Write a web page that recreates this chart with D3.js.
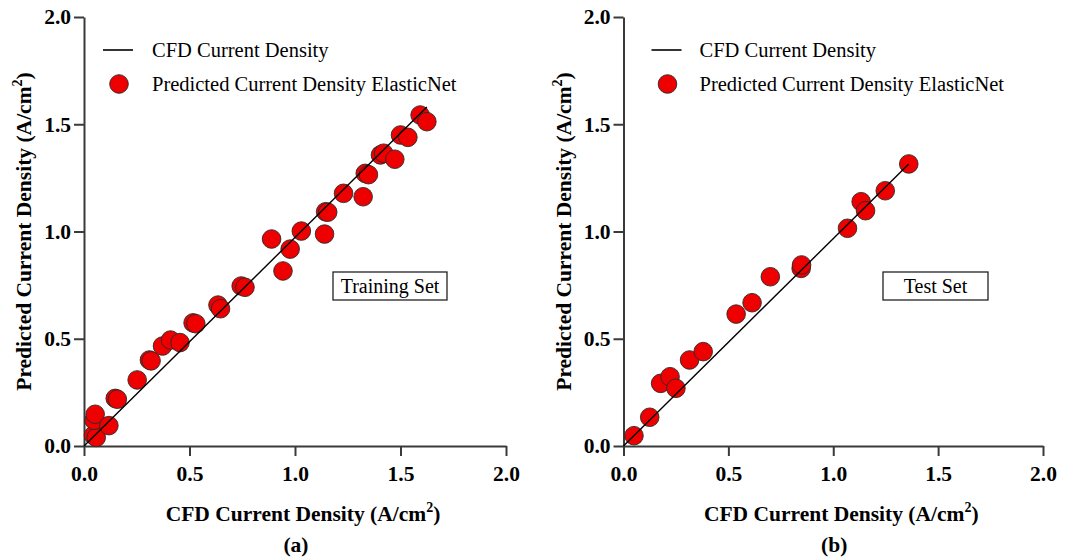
<!DOCTYPE html>
<html>
<head>
<meta charset="utf-8">
<script src="https://cdn.jsdelivr.net/npm/d3@7"></script>
<style>
  html, body { margin: 0; padding: 0; background: #fff; }
  svg { display: block; }
  text { font-family: "Liberation Serif", "Times New Roman", serif; }
</style>
</head>
<body>
<svg id="chart" width="1074" height="559"></svg>
<script>
// Training set: CFD current density vs ElasticNet prediction (A/cm²)
const trainCFD  = [0.045, 0.058, 0.048, 0.053, 0.118, 0.148, 0.158, 0.252, 0.310, 0.318,
                   0.372, 0.410, 0.455, 0.517, 0.530, 0.635, 0.647, 0.745, 0.763, 0.889,
                   0.943, 0.977, 1.030, 1.140, 1.145, 1.155, 1.230, 1.323, 1.333, 1.348,
                   1.405, 1.420, 1.473, 1.500, 1.535, 1.593, 1.625];
const trainPred = [0.050, 0.040, 0.120, 0.148, 0.095, 0.222, 0.218, 0.308, 0.401, 0.397,
                   0.466, 0.494, 0.482, 0.574, 0.570, 0.657, 0.640, 0.746, 0.740, 0.965,
                   0.816, 0.918, 1.002, 0.988, 1.092, 1.090, 1.178, 1.162, 1.271, 1.265,
                   1.357, 1.365, 1.337, 1.450, 1.439, 1.543, 1.512];

// Test set
const testCFD  = [0.050, 0.125, 0.177, 0.222, 0.250, 0.315, 0.380, 0.537, 0.613, 0.700,
                  0.847, 0.849, 1.068, 1.133, 1.154, 1.248, 1.360];
const testPred = [0.048, 0.134, 0.292, 0.323, 0.269, 0.401, 0.440, 0.615, 0.668, 0.789,
                  0.828, 0.844, 1.015, 1.139, 1.097, 1.190, 1.315];

// CFD reference line endpoints (x, y) for each set
const trainLineX = [0, 1.625], trainLineY = [0, 1.58];
const testLineX  = [0, 1.36],  testLineY  = [0, 1.315];

const axisTicks = [0, 0.5, 1.0, 1.5, 2.0];
const axisDomain = [0, 2];

const legendLabels = ["CFD Current Density", "Predicted Current Density ElasticNet"];
const xTitle = "CFD Current Density (A/cm";
const yTitle = "Predicted Current Density (A/cm";
const setLabels = ["Training Set", "Test Set"];
const panelLabels = ["(a)", "(b)"];

const svg = d3.select("#chart");
const FILL = "#ee0000";
const AXIS = "#3a3a3a";

const panels = [
  { x0: 84,    x1: 506,  cfd: trainCFD, pred: trainPred, lx: trainLineX, ly: trainLineY,
    set: setLabels[0], tag: panelLabels[0], legLine: 19, legText: 68, box: [333, 272, 114, 28] },
  { x0: 623.5, x1: 1043, cfd: testCFD,  pred: testPred,  lx: testLineX,  ly: testLineY,
    set: setLabels[1], tag: panelLabels[1], legLine: 28, legText: 76, box: [883, 272, 105, 28] }
];

const yTop = 17, yBot = 446;

panels.forEach(p => {
  const x = d3.scaleLinear().domain(axisDomain).range([p.x0, p.x1]);
  const y = d3.scaleLinear().domain(axisDomain).range([yBot, yTop]);
  const g = svg.append("g");

  // axes
  const xAxis = d3.axisBottom(x).tickValues(axisTicks).tickFormat(d3.format(".1f"))
    .tickSize(10).tickPadding(10).tickSizeOuter(0);
  const yAxis = d3.axisLeft(y).tickValues(axisTicks).tickFormat(d3.format(".1f"))
    .tickSize(10).tickPadding(3).tickSizeOuter(0);

  const gx = g.append("g").attr("transform", `translate(0,${yBot})`).call(xAxis);
  const gy = g.append("g").attr("transform", `translate(${p.x0},0)`).call(yAxis);
  [gx, gy].forEach(a => {
    a.select(".domain").attr("stroke", AXIS).attr("stroke-width", 2);
    a.selectAll(".tick line").attr("stroke", AXIS).attr("stroke-width", 2);
    a.selectAll(".tick text").attr("fill", "#000").attr("font-size", 21.5)
      .attr("font-weight", "bold").attr("font-family", "Liberation Serif, serif");
  });

  // points
  g.append("g").selectAll("circle")
    .data(p.cfd.map((c, i) => [c, p.pred[i]]))
    .join("circle")
    .attr("cx", d => x(d[0])).attr("cy", d => y(d[1]))
    .attr("r", 9.3)
    .attr("fill", FILL).attr("stroke", "#2a2a2a").attr("stroke-width", 0.9);

  // CFD reference line
  g.append("line")
    .attr("x1", x(p.lx[0])).attr("y1", y(p.ly[0]))
    .attr("x2", x(p.lx[1])).attr("y2", y(p.ly[1]))
    .attr("stroke", "#000").attr("stroke-width", 1.4);

  // legend
  const lg = g.append("g");
  lg.append("line").attr("x1", p.x0 + p.legLine).attr("x2", p.x0 + p.legLine + 30)
    .attr("y1", 50).attr("y2", 50).attr("stroke", "#000").attr("stroke-width", 1.6);
  lg.append("text").attr("x", p.x0 + p.legText).attr("y", 57)
    .attr("font-size", 20.5).text(legendLabels[0]);
  lg.append("circle").attr("cx", p.x0 + p.legLine + 16).attr("cy", 84).attr("r", 9.3)
    .attr("fill", FILL).attr("stroke", "#2a2a2a").attr("stroke-width", 0.9);
  lg.append("text").attr("x", p.x0 + p.legText).attr("y", 91)
    .attr("font-size", 20.5).text(legendLabels[1]);

  // set label box
  const [bx, by, bw, bh] = p.box;
  g.append("rect").attr("x", bx).attr("y", by).attr("width", bw).attr("height", bh)
    .attr("fill", "#fff").attr("stroke", "#222").attr("stroke-width", 1.3);
  g.append("text").attr("x", bx + bw / 2).attr("y", by + bh / 2 + 7)
    .attr("text-anchor", "middle").attr("font-size", 20).text(p.set);

  // axis titles
  const xt = g.append("text").attr("x", x(1) + 8).attr("y", 521)
    .attr("text-anchor", "middle").attr("font-size", 21.5).attr("font-weight", "bold");
  xt.append("tspan").text(xTitle);
  xt.append("tspan").attr("font-size", 14).attr("dy", -9).text("2");
  xt.append("tspan").attr("dy", 9).text(")");

  const yt = g.append("text")
    .attr("transform", `translate(${p.x0 - 53},${(yTop + yBot) / 2}) rotate(-90)`)
    .attr("text-anchor", "middle").attr("font-size", 21.5).attr("font-weight", "bold");
  yt.append("tspan").text(yTitle);
  yt.append("tspan").attr("font-size", 14).attr("dy", -9).text("2");
  yt.append("tspan").attr("dy", 9).text(")");

  // panel tag
  g.append("text").attr("x", x(1) + 1).attr("y", 552)
    .attr("text-anchor", "middle").attr("font-size", 21.5).attr("font-weight", "bold")
    .text(p.tag);
});
</script>
</body>
</html>
